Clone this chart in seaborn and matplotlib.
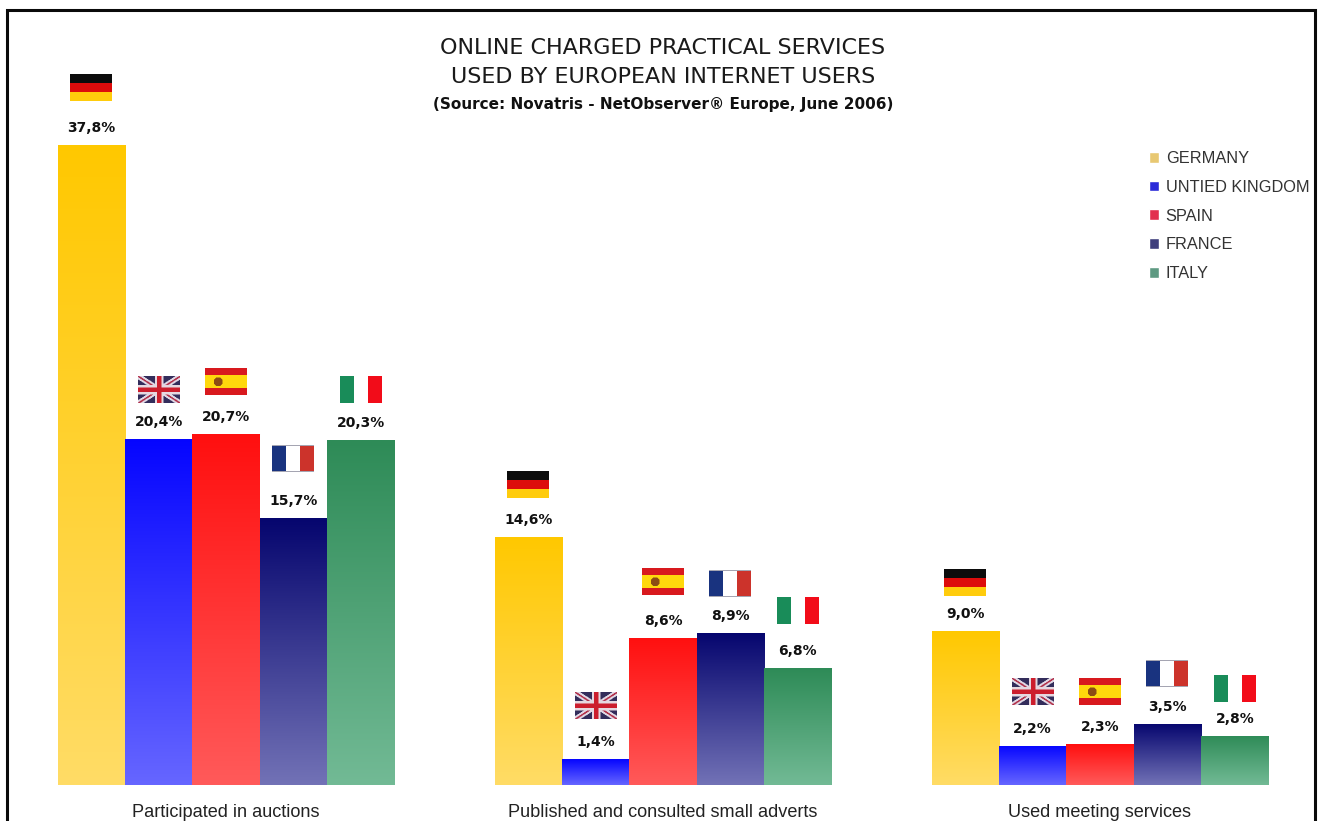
import numpy as np
import pandas as pd
import matplotlib
matplotlib.use("Agg")
import matplotlib.pyplot as plt
import seaborn as sns
from matplotlib.colors import LinearSegmentedColormap
from matplotlib.lines import Line2D
from matplotlib.offsetbox import AnnotationBbox, OffsetImage

categories = ["Participated in auctions", "Published and consulted small adverts", "Used meeting services"]
countries = ["GERMANY", "UNTIED KINGDOM", "SPAIN", "FRANCE", "ITALY"]
germany = [37.8, 14.6, 9.0]
united_kingdom = [20.4, 1.4, 2.2]
spain = [20.7, 8.6, 2.3]
france = [15.7, 8.9, 3.5]
italy = [20.3, 6.8, 2.8]
series = [germany, united_kingdom, spain, france, italy]

legend_colors = ["#E8C872", "#2A2AD8", "#E2304E", "#3E3E7C", "#5E9A82"]
grad_top = ["#FFC800", "#0505FF", "#FF0F0F", "#05056E", "#2E8B57"]
grad_bottom = ["#FFDC66", "#6666FF", "#FF5A5A", "#7272B6", "#72BA95"]
# flag centre above the bar top, in pixels, per country and group
flag_lift = [[57, 52, 49], [49, 54, 54], [52, 56, 53], [59, 49, 50], [51, 58, 47]]

W, H = 1318, 821
BASE_PX = 785
PX_PER_UNIT = 16.88
GROUP_PX = 437
GROUP0_X = 226

df = pd.DataFrame(
    [(c, k, v) for k, vals in zip(countries, series) for c, v in zip(categories, vals)],
    columns=["category", "country", "value"],
)


def flag_image(name):
    h, w = 54, 84
    img = np.ones((h, w, 3))
    yy, xx = np.mgrid[0:h, 0:w]
    if name == "GERMANY":
        img[:18] = (0.05, 0.05, 0.05)
        img[18:36] = (0.87, 0.05, 0.05)
        img[36:] = (1.0, 0.8, 0.05)
    elif name == "UNTIED KINGDOM":
        img[:] = (0.2, 0.18, 0.36)
        u, v = xx / w, yy / h
        d1 = np.abs(u - v)
        d2 = np.abs(u - (1 - v))
        img[(d1 < 0.12) | (d2 < 0.12)] = (0.88, 0.85, 0.9)
        img[(d1 < 0.035) | (d2 < 0.035)] = (0.7, 0.2, 0.3)
        img[(np.abs(u - 0.5) < 0.1) | (np.abs(v - 0.5) < 0.18)] = (0.9, 0.85, 0.88)
        img[(np.abs(u - 0.5) < 0.05) | (np.abs(v - 0.5) < 0.09)] = (0.8, 0.12, 0.18)
    elif name == "SPAIN":
        img[:] = (0.85, 0.1, 0.12)
        img[14:40] = (1.0, 0.85, 0.05)
        img[((xx - 26) / 9.0) ** 2 + ((yy - 27) / 9.0) ** 2 < 1] = (0.55, 0.3, 0.08)
    elif name == "FRANCE":
        img[:, :28] = (0.1, 0.2, 0.5)
        img[:, 56:] = (0.8, 0.2, 0.17)
        img[:2] = (0.65, 0.65, 0.7)
        img[-2:] = (0.65, 0.65, 0.7)
    else:
        img[:, :28] = (0.1, 0.55, 0.35)
        img[:, 56:] = (0.95, 0.05, 0.1)
    return img


sns.set_theme(style="white")
plt.rcParams["font.family"] = ["Liberation Sans", "DejaVu Sans"]

fig = plt.figure(figsize=(W / 100, H / 100), dpi=100, facecolor="white")
ax = fig.add_axes([0, (H - BASE_PX) / H, 1, BASE_PX / H])
sns.barplot(
    data=df, x="category", y="value", hue="country", order=categories, hue_order=countries,
    palette=legend_colors, width=337 / GROUP_PX, gap=0, dodge=True, saturation=1,
    legend=True, ax=ax, errorbar=None,
)

handles, labels = ax.get_legend_handles_labels()
ax.legend_.remove()
ax.set_xlim(-GROUP0_X / GROUP_PX, (W - GROUP0_X) / GROUP_PX)
# the bars start slightly below the zero of the value scale
y0 = -2 / PX_PER_UNIT
ax.set_ylim(y0, y0 + BASE_PX / PX_PER_UNIT)
ylim, xlim = ax.get_ylim(), ax.get_xlim()

for i, cont in enumerate(ax.containers):
    cmap = LinearSegmentedColormap.from_list("g", [grad_top[i], grad_bottom[i]])
    for j, bar in enumerate(cont):
        x, w, h = bar.get_x(), bar.get_width(), bar.get_height()
        bar.set_y(y0)
        bar.set_height(h - y0)
        im = ax.imshow(
            np.linspace(0, 1, 256).reshape(-1, 1), cmap=cmap, aspect="auto",
            extent=(x, x + w, y0, h), origin="upper", zorder=3,
        )
        im.set_clip_path(bar)
        ab = AnnotationBbox(
            OffsetImage(flag_image(countries[i]), zoom=0.36, interpolation="bilinear"),
            (x + w / 2, h), xybox=(0, flag_lift[i][j] * 0.72), xycoords="data",
            boxcoords="offset points", frameon=False, pad=0, box_alignment=(0.5, 0.5), zorder=5,
        )
        ax.add_artist(ab)
        ax.annotate(
            f"{h:.1f}".replace(".", ",") + "%", (x + w / 2, h), xytext=(0, 17 * 0.72),
            textcoords="offset points", ha="center", va="center",
            fontsize=10, fontweight="bold", family="DejaVu Sans", color="#111111", zorder=5,
        )
ax.set_xlim(xlim)
ax.set_ylim(ylim)

ax.set_xlabel("")
ax.set_ylabel("")
ax.set_yticks([])
ax.tick_params(axis="x", length=0, pad=14, labelsize=13.1, labelcolor="#222222")
for s in ax.spines.values():
    s.set_visible(False)
ax.patch.set_alpha(0)

fig.legend(
    handles, labels, loc="upper left", bbox_to_anchor=(1149 / W, 1 - 151 / H), frameon=False,
    fontsize=11.8, handlelength=0.62, handleheight=0.62, handletextpad=0.4,
    labelspacing=0.84, labelcolor="#333333", borderpad=0, borderaxespad=0,
)

cx = 663 / W
fig.text(cx, 1 - 48 / H, "ONLINE CHARGED PRACTICAL SERVICES", ha="center", va="center",
         fontsize=16, family="DejaVu Sans", color="#1a1a1a")
fig.text(cx, 1 - 77 / H, "USED BY EUROPEAN INTERNET USERS", ha="center", va="center",
         fontsize=16, family="DejaVu Sans", color="#1a1a1a")
fig.text(cx, 1 - 105 / H, "(Source: Novatris - NetObserver® Europe, June 2006)", ha="center", va="center",
         fontsize=11, fontweight="bold", family="DejaVu Sans", color="#111111")

fig.add_artist(Line2D([6.5 / W, 6.5 / W, 1315 / W, 1315 / W],
                      [0, 1 - 10.5 / H, 1 - 10.5 / H, 0],
                      color="#0a0a0a", lw=2.2, solid_joinstyle="miter"))

fig.savefig("out.png", dpi=100, facecolor="white")
